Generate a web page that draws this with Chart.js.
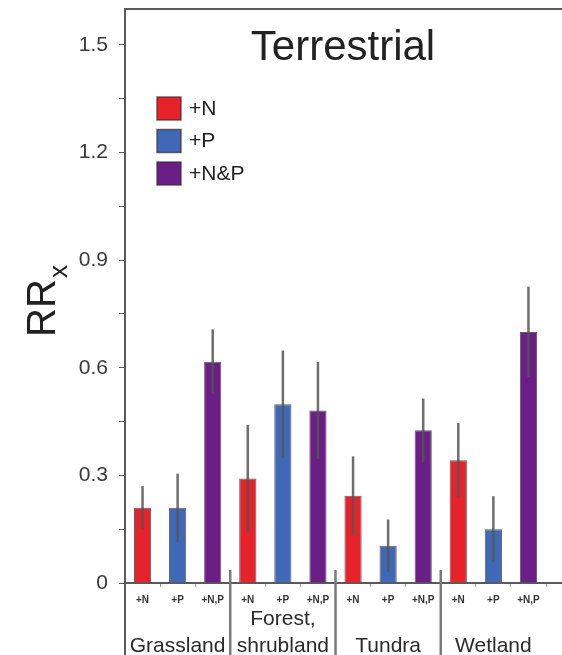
<!DOCTYPE html>
<html>
<head>
<meta charset="utf-8">
<script src="https://cdn.jsdelivr.net/npm/chart.js@4/dist/chart.umd.min.js"></script>
<style>
  html, body { margin: 0; padding: 0; background: #fff; }
  #wrap { width: 562px; height: 655px; }
</style>
</head>
<body>
<div id="wrap"><canvas id="chart" width="562" height="655"></canvas></div>
<script>
  // habitat groups, treatments and read-off values (RRx)
  var groups = [["Grassland"], ["Forest,", "shrubland"], ["Tundra"], ["Wetland"]];
  var treatments = ["+N", "+P", "+N,P"];
  var legendLabels = ["+N", "+P", "+N&P"];
  var rrN  = [0.210, 0.291, 0.243, 0.342];
  var rrP  = [0.210, 0.498, 0.104, 0.150];
  var rrNP = [0.617, 0.481, 0.426, 0.700];
  var errN  = [0.060, 0.150, 0.110, 0.104];
  var errP  = [0.095, 0.150, 0.073, 0.092];
  var errNP = [0.090, 0.135, 0.088, 0.126];
  var yTicks = [0, 0.15, 0.3, 0.45, 0.6, 0.75, 0.9, 1.05, 1.2, 1.35, 1.5];

  var COLORS = ["#e6232b", "#3f69b6", "#6a1e86"];
  var AXIS = "#5a5a5a";
  var FONT = "'Liberation Sans', Arial, sans-serif";

  // flatten to one bar per (group, treatment)
  var labels = [], values = [], errs = [], colors = [];
  var series = [rrN, rrP, rrNP], errSeries = [errN, errP, errNP];
  groups.forEach(function (g, gi) {
    treatments.forEach(function (t, ti) {
      labels.push(t);
      values.push(series[ti][gi]);
      errs.push(errSeries[ti][gi]);
      colors.push(COLORS[ti]);
    });
  });

  var decor = {
    id: "decor",
    afterDatasetsDraw: function (chart) {
      var c = chart.ctx, y = chart.scales.y;
      var meta = chart.getDatasetMeta(0);
      c.save();
      c.strokeStyle = "rgba(85,85,85,0.85)";
      c.lineWidth = 2.5;
      meta.data.forEach(function (bar, i) {
        var top = y.getPixelForValue(values[i] + errs[i]);
        var bot = y.getPixelForValue(values[i] - errs[i]);
        c.beginPath();
        c.moveTo(bar.x, top);
        c.lineTo(bar.x, bot);
        c.stroke();
      });
      c.restore();
    },
    afterDraw: function (chart) {
      var c = chart.ctx, x = chart.scales.x, a = chart.chartArea;
      var W = chart.width, H = chart.height;
      var slot = x.getPixelForValue(1) - x.getPixelForValue(0);
      c.save();
      c.strokeStyle = AXIS;
      c.lineWidth = 2;
      // top frame, axis extensions
      c.beginPath();
      c.moveTo(a.left, a.top); c.lineTo(W, a.top);
      c.moveTo(a.right, a.bottom); c.lineTo(W, a.bottom);
      c.moveTo(a.left, a.top); c.lineTo(a.left, H);
      c.stroke();
      // group separators
      c.strokeStyle = "#7a7a7a";
      c.lineWidth = 2.5;
      for (var g = 1; g < groups.length; g++) {
        var sx = x.getPixelForValue(g * 3) - slot / 2;
        c.beginPath();
        c.moveTo(sx, a.bottom - 13);
        c.lineTo(sx, H);
        c.stroke();
      }
      // group labels
      c.fillStyle = "#2a2a2a";
      c.font = "21px " + FONT;
      c.textAlign = "center";
      c.textBaseline = "alphabetic";
      groups.forEach(function (lines, gi) {
        var cx = (x.getPixelForValue(gi * 3) + x.getPixelForValue(gi * 3 + 2)) / 2;
        var base = 652 - (lines.length - 1) * 27;
        lines.forEach(function (ln, li) { c.fillText(ln, cx, base + li * 27); });
      });
      // title
      c.font = "42px " + FONT;
      c.fillStyle = "#222";
      c.fillText("Terrestrial", 343, 60);
      // legend
      c.font = "21px " + FONT;
      c.textAlign = "left";
      c.textBaseline = "middle";
      legendLabels.forEach(function (l, i) {
        var ly = 97 + i * 32.5;
        c.fillStyle = COLORS[i];
        c.fillRect(157, ly, 24, 23);
        c.strokeStyle = "rgba(60,40,50,0.7)";
        c.lineWidth = 1.5;
        c.strokeRect(157, ly, 24, 23);
        c.fillStyle = "#222";
        c.fillText(l, 189, ly + 12);
      });
      // y title with subscript
      c.translate(55, 308);
      c.rotate(-Math.PI / 2);
      c.textBaseline = "alphabetic";
      c.font = "40px " + FONT;
      var w = c.measureText("RR").width;
      c.fillText("RR", -w / 2, 0);
      c.font = "26px " + FONT;
      c.fillText("x", w / 2 + 1, 12);
      c.restore();
    }
  };

  new Chart(document.getElementById("chart").getContext("2d"), {
    type: "bar",
    data: {
      labels: labels,
      datasets: [{
        data: values,
        backgroundColor: colors,
        borderColor: "rgba(50,35,45,0.75)",
        borderWidth: 1,
        categoryPercentage: 1,
        barPercentage: 0.49
      }]
    },
    options: {
      responsive: false,
      animation: false,
      devicePixelRatio: 1,
      layout: { padding: { top: 9, right: 16, left: 0, bottom: 0 } },
      plugins: { legend: { display: false }, tooltip: { enabled: false }, title: { display: false } },
      scales: {
        x: {
          afterFit: function (s) { s.height = 72; s.paddingLeft = 0; s.paddingRight = 0; },
          border: { display: true, color: AXIS, width: 2 },
          grid: { display: true, offset: true, drawOnChartArea: false, drawTicks: true, tickLength: 4, tickColor: "#999" },
          ticks: { color: "#333", padding: 7, maxRotation: 0, autoSkip: false, font: { family: FONT, size: 10, weight: "bold" } }
        },
        y: {
          min: 0,
          max: 1.6,
          afterFit: function (s) { s.width = 125; s.paddingTop = 0; s.paddingBottom = 0; },
          afterBuildTicks: function (s) { s.ticks = yTicks.map(function (v) { return { value: v }; }); },
          border: { display: true, color: AXIS, width: 2 },
          grid: { display: true, drawOnChartArea: false, drawTicks: true, tickLength: 6, tickColor: AXIS },
          ticks: {
            color: "#3a3a3a",
            padding: 11,
            font: { family: FONT, size: 21 },
            callback: function (v, i) {
              if (i % 2) return "";
              return v === 0 ? "0" : v.toFixed(1);
            }
          }
        }
      }
    },
    plugins: [decor]
  });
</script>
</body>
</html>
